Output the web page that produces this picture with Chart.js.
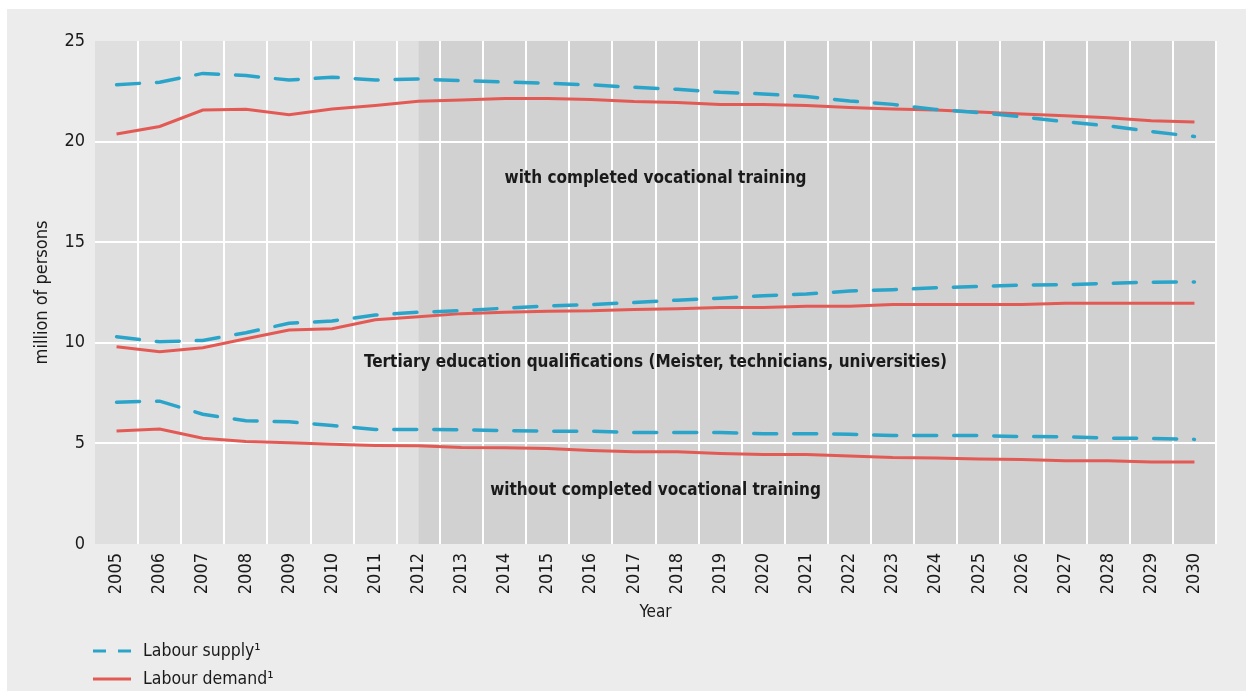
<!DOCTYPE html>
<html>
<head>
<meta charset="utf-8">
<script src="https://cdn.jsdelivr.net/npm/chart.js@4/dist/chart.umd.min.js"></script>
<style>
  body { margin: 0; background: #fff; }
  #panel { position: absolute; left: 7px; top: 9px; width: 1239px; height: 682px; background: #ececec; }
  canvas { display: block; }
</style>
</head>
<body>
<div id="panel"><canvas id="chart" width="1239" height="682"></canvas></div>
<script>
const FONT = '"Liberation Sans Narrow", "DejaVu Sans Condensed", "Open Sans", sans-serif';
const TEXT = '#1a1a1a';
const BLUE = '#2ba4ca';
const RED = '#e35a55';

const years = ['2005','2006','2007','2008','2009','2010','2011','2012','2013','2014','2015','2016','2017',
               '2018','2019','2020','2021','2022','2023','2024','2025','2026','2027','2028','2029','2030'];

// with completed vocational training
const vocSupply = [22.83, 22.95, 23.39, 23.28, 23.06, 23.20, 23.06, 23.11, 23.03, 22.96, 22.90, 22.82, 22.70,
                   22.60, 22.45, 22.37, 22.24, 22.02, 21.85, 21.60, 21.44, 21.23, 20.99, 20.78, 20.50, 20.25];
const vocDemand = [20.38, 20.75, 21.57, 21.61, 21.34, 21.62, 21.79, 22.00, 22.07, 22.14, 22.14, 22.09, 21.99,
                   21.94, 21.85, 21.85, 21.79, 21.69, 21.62, 21.57, 21.47, 21.37, 21.28, 21.19, 21.04, 20.98];
// tertiary education
const tertSupply = [10.30, 10.05, 10.12, 10.50, 10.97, 11.08, 11.38, 11.52, 11.60, 11.72, 11.83, 11.90, 12.00,
                    12.12, 12.22, 12.34, 12.43, 12.57, 12.64, 12.73, 12.80, 12.87, 12.89, 12.96, 13.01, 13.02];
const tertDemand = [9.80, 9.55, 9.75, 10.20, 10.64, 10.70, 11.15, 11.30, 11.45, 11.52, 11.57, 11.59, 11.66,
                    11.69, 11.76, 11.76, 11.82, 11.82, 11.90, 11.90, 11.90, 11.90, 11.97, 11.97, 11.97, 11.97];
// without completed vocational training
const noVocSupply = [7.05, 7.10, 6.45, 6.13, 6.07, 5.89, 5.69, 5.69, 5.68, 5.63, 5.61, 5.61, 5.54,
                     5.54, 5.54, 5.48, 5.48, 5.46, 5.39, 5.39, 5.39, 5.34, 5.33, 5.26, 5.25, 5.20];
const noVocDemand = [5.62, 5.72, 5.26, 5.09, 5.03, 4.96, 4.90, 4.88, 4.80, 4.78, 4.75, 4.65, 4.58,
                     4.58, 4.50, 4.45, 4.45, 4.37, 4.30, 4.28, 4.22, 4.20, 4.14, 4.14, 4.07, 4.07];

const groupLabels = ['with completed vocational training',
                     'Tertiary education qualifications (Meister, technicians, universities)',
                     'without completed vocational training'];
const groupLabelY = [18.15, 9.0, 2.65];

const legendLabels = ['Labour supply\u00b9', 'Labour demand\u00b9'];
const projectionStart = '2012';

const supplyStyle = { borderColor: BLUE, borderWidth: 3.5, borderDash: [23, 17], borderCapStyle: 'round' };
const demandStyle = { borderColor: RED, borderWidth: 3 };

const makeSet = (label, data, style) => Object.assign({ label, data, pointRadius: 0, tension: 0, fill: false }, style);

// shaded plot background, darker from 2012 on
const shading = {
  id: 'shading',
  beforeDraw(chart) {
    const { ctx, chartArea: a, scales: { x } } = chart;
    const split = x.getPixelForValue(years.indexOf(projectionStart));
    ctx.save();
    ctx.fillStyle = '#dfdfdf';
    ctx.fillRect(a.left, a.top, split - a.left, a.bottom - a.top);
    ctx.fillStyle = '#d0d1d0';
    ctx.fillRect(split, a.top, a.right - split, a.bottom - a.top);
    ctx.restore();
  }
};

const groupText = {
  id: 'groupText',
  afterDatasetsDraw(chart) {
    const { ctx, chartArea: a, scales: { y } } = chart;
    ctx.save();
    ctx.font = 'bold 17px ' + FONT;
    ctx.fillStyle = TEXT;
    ctx.textAlign = 'center';
    ctx.textBaseline = 'middle';
    groupLabels.forEach((t, i) => ctx.fillText(t, (a.left + a.right) / 2, y.getPixelForValue(groupLabelY[i])));
    ctx.restore();
  }
};

const lineLegend = {
  id: 'lineLegend',
  afterDraw(chart) {
    const { ctx } = chart;
    const styles = [supplyStyle, demandStyle];
    ctx.save();
    ctx.font = '17.5px ' + FONT;
    ctx.textBaseline = 'middle';
    styles.forEach((s, i) => {
      const yy = 642 + i * 28;
      ctx.strokeStyle = s.borderColor;
      ctx.lineWidth = 3;
      ctx.setLineDash(s.borderDash ? [13, 12] : []);
      ctx.beginPath();
      ctx.moveTo(86, yy);
      ctx.lineTo(124, yy);
      ctx.stroke();
      ctx.fillStyle = TEXT;
      ctx.fillText(legendLabels[i], 136, yy);
    });
    ctx.restore();
  }
};

new Chart(document.getElementById('chart'), {
  type: 'line',
  data: {
    labels: years,
    datasets: [
      makeSet('Supply vocational', vocSupply, supplyStyle),
      makeSet('Demand vocational', vocDemand, demandStyle),
      makeSet('Supply tertiary', tertSupply, supplyStyle),
      makeSet('Demand tertiary', tertDemand, demandStyle),
      makeSet('Supply without', noVocSupply, supplyStyle),
      makeSet('Demand without', noVocDemand, demandStyle)
    ]
  },
  options: {
    responsive: false,
    animation: false,
    layout: { padding: { left: 0, top: 32, right: 30, bottom: 67 } },
    plugins: { legend: { display: false }, tooltip: { enabled: false } },
    scales: {
      x: {
        offset: true,
        afterFit: s => { s.height = 80; },
        grid: {
          offset: true,
          drawTicks: false,
          lineWidth: 2,
          color: c => (c.index === 0 || c.index >= years.length) ? 'rgba(0,0,0,0)' : '#ffffff'
        },
        border: { display: false },
        ticks: { color: TEXT, font: { family: FONT, size: 18 }, minRotation: 90, maxRotation: 90, padding: 9, autoSkip: false },
        title: { display: true, text: 'Year', color: TEXT, font: { family: FONT, size: 17 }, padding: { top: 0, bottom: 1 } }
      },
      y: {
        min: 0,
        max: 25,
        afterFit: s => { s.width = 88; },
        grid: {
          drawTicks: false,
          lineWidth: 2,
          color: c => (c.tick.value === 0 || c.tick.value === 25) ? 'rgba(0,0,0,0)' : '#ffffff'
        },
        border: { display: false },
        ticks: { stepSize: 5, color: TEXT, font: { family: FONT, size: 18 }, padding: 10 },
        title: { display: true, text: 'million of persons', color: TEXT, font: { family: FONT, size: 18 }, padding: { top: 25, bottom: 0 } }
      }
    }
  },
  plugins: [shading, groupText, lineLegend]
});
</script>
</body>
</html>
